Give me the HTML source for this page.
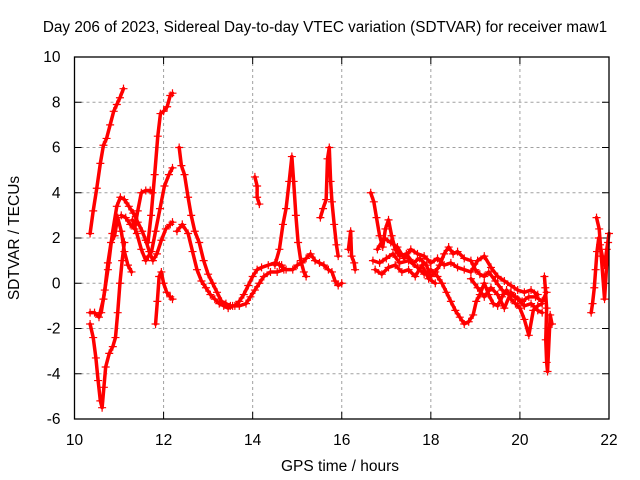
<!DOCTYPE html>
<html><head><meta charset="utf-8"><style>
body{margin:0;background:#fff;}
svg{display:block;font-family:"Liberation Sans",sans-serif;}
</style></head><body>
<svg id="chart" width="640" height="480" viewBox="0 0 640 480">
<text x="325" y="32" font-size="15.3" text-anchor="middle" fill="#000">Day 206 of 2023, Sidereal Day-to-day VTEC variation (SDTVAR) for receiver maw1</text>
<g id="grid"></g>
<g id="ticks"></g>
<g id="marks"></g>
<rect x="74.5" y="57" width="534.5" height="362" fill="none" stroke="#000" stroke-width="1.3"/>
<text x="340" y="471" font-size="15.5" text-anchor="middle">GPS time / hours</text>
<text transform="translate(19,238) rotate(-90)" font-size="15.5" text-anchor="middle">SDTVAR / TECUs</text>
</svg>
<script>
const xTicks=[10,12,14,16,18,20,22];
const yTicks=[-6,-4,-2,0,2,4,6,8,10];
const trackA=[[10.35,2.2],[10.42,3.2],[10.5,4.2],[10.58,5.3],[10.65,6.1],[10.72,6.4],[10.8,7.0],[10.88,7.6],[10.95,7.9],[11.02,8.2],[11.1,8.6]];
const trackB=[[10.35,-1.8],[10.42,-2.4],[10.48,-3.3],[10.53,-4.3],[10.58,-5.2],[10.62,-5.5],[10.66,-4.6],[10.7,-3.7],[10.78,-3.1],[10.86,-2.8],[10.92,-2.4],[10.97,-1.3],[11.02,0],[11.07,1.0],[11.12,1.8]];
const trackC=[[10.35,-1.3],[10.45,-1.3],[10.55,-1.5],[10.65,-0.7],[10.75,0.6],[10.85,2.2],[10.95,3.4],[11.03,3.8],[11.12,3.7],[11.22,3.4],[11.32,3.1],[11.42,2.7],[11.52,2.3],[11.6,1.9],[11.68,1.4],[11.76,1.0],[11.85,1.3],[11.95,1.9],[12.05,2.4],[12.15,2.6],[12.2,2.7]];
const trackD=[[10.6,-1.3],[10.68,-0.3],[10.75,0.9],[10.82,1.8],[10.9,2.1],[10.97,2.9],[11.05,2.3],[11.12,1.4],[11.2,0.8],[11.28,0.5]];
const trackE=[[11.05,3.0],[11.15,2.9],[11.25,2.6],[11.35,2.4],[11.42,3.2],[11.5,4.0],[11.6,4.1],[11.7,4.1],[11.75,4.0]];
const trackF=[[11.3,2.8],[11.4,2.2],[11.5,1.5],[11.6,1.0],[11.66,1.2],[11.73,1.4],[11.82,2.3],[11.92,3.3],[12.02,4.3],[12.12,4.8],[12.2,5.1]];
const trackG=[[11.65,1.8],[11.72,3.0],[11.8,4.8],[11.87,6.5],[11.93,7.5],[12.0,7.6],[12.08,7.8],[12.15,8.3],[12.2,8.4]];
const trackH=[[11.82,-1.8],[11.86,-0.8],[11.9,0.3],[11.95,0.5],[12.0,0],[12.07,-0.4],[12.15,-0.6],[12.2,-0.7]];
const trackI=[[12.35,6.0],[12.4,5.2],[12.47,4.8],[12.55,3.8],[12.62,3.0],[12.7,2.3],[12.8,1.8],[12.9,1.0],[13.0,0.4],[13.1,0],[13.2,-0.4],[13.3,-0.8],[13.4,-0.9],[13.5,-1.0],[13.6,-1.0],[13.7,-0.8],[13.8,-0.5],[13.9,-0.1],[14.0,0.3],[14.1,0.6],[14.2,0.7],[14.35,0.8],[14.5,0.9],[14.65,0.8]];
const trackJ=[[12.3,2.3],[12.42,2.6],[12.55,2.2],[12.65,1.4],[12.75,0.6],[12.85,0.1],[12.95,-0.2],[13.05,-0.5],[13.15,-0.7],[13.25,-0.9],[13.35,-1.0],[13.45,-1.1],[13.55,-1.0],[13.7,-1.0],[13.85,-0.9],[13.95,-0.6],[14.05,-0.3],[14.15,0],[14.25,0.3],[14.4,0.5],[14.55,0.5],[14.7,0.6]];
const trackK=[[14.6,0.8],[14.75,0.6],[14.9,0.6],[15.0,0.8],[15.1,0.9],[15.2,1.1],[15.3,1.3],[15.4,1.0],[15.5,0.9],[15.6,0.8],[15.7,0.6],[15.78,0.5],[15.85,0.1],[15.92,-0.1],[16.0,0]];
const trackL=[[14.5,0.8],[14.6,1.5],[14.68,2.6],[14.75,3.3],[14.82,4.5],[14.88,5.6],[14.92,4.5],[14.97,3.0],[15.02,1.8],[15.08,1.0],[15.15,0.5],[15.2,0.3]];
const trackM=[[14.05,4.7],[14.1,4.3],[14.1,3.8],[14.15,3.5]];
const trackN=[[15.52,2.9],[15.58,3.3],[15.65,3.7],[15.68,5.5],[15.72,6.0],[15.75,4.5],[15.78,3.6],[15.83,2.6],[15.88,1.7],[15.92,1.2]];
const trackO=[[16.15,1.5],[16.2,2.3],[16.22,1.2],[16.28,0.9],[16.3,0.6]];
const trackP=[[16.65,4.0],[16.72,3.6],[16.78,2.9],[16.85,2.1],[16.92,1.6],[16.98,2.4],[17.05,2.8],[17.12,2.1],[17.2,1.5],[17.3,1.2],[17.45,1.3],[17.6,0.9],[17.75,1.1],[17.9,0.8],[18.0,0.3],[18.1,0.5],[18.2,0.8],[18.3,1.3],[18.4,1.6],[18.5,1.3],[18.6,1.4],[18.75,1.1],[18.9,1.0],[19.0,0.6],[19.1,0.4],[19.2,0.3],[19.3,0.5],[19.45,0.1],[19.6,-0.3],[19.75,-0.5],[19.9,-0.6],[20.05,-0.8],[20.2,-0.6],[20.35,-0.6],[20.5,-0.8],[20.6,-0.4]];
const trackQ=[[16.7,1.0],[16.85,0.9],[17.0,1.1],[17.15,1.3],[17.3,0.9],[17.5,1.0],[17.7,0.7],[17.85,0.4],[18.0,0.6],[18.15,0.3],[18.25,0],[18.35,-0.4],[18.45,-0.8],[18.55,-1.2],[18.65,-1.5],[18.75,-1.8],[18.85,-1.7],[18.95,-1.4],[19.02,-0.8],[19.1,-0.5],[19.2,0],[19.3,-0.5],[19.4,-0.9],[19.5,-1.0],[19.6,-0.6],[19.7,-0.3],[19.8,-0.7],[19.9,-0.9],[20.0,-1.1],[20.1,-1.6],[20.2,-2.3],[20.3,-1.2],[20.4,-1.0],[20.5,-0.9]];
const trackR=[[20.55,0.3],[20.57,-0.2],[20.6,-1.1],[20.58,-2.5],[20.6,-3.5],[20.62,-3.9],[20.68,-1.4],[20.72,-1.8]];
const trackS=[[21.6,-1.3],[21.63,-0.9],[21.67,-0.2],[21.7,0.6],[21.73,1.4],[21.77,2.0],[21.8,1.7],[21.85,1.2],[21.9,0.8],[21.95,1.5],[22.0,2.2]];
const trackT=[[21.72,2.9],[21.78,2.4],[21.9,-0.7],[21.98,1.8]];
const trackU=[[16.8,1.5],[16.95,2.0],[17.1,1.8],[17.25,1.6],[17.4,1.1],[17.55,1.5],[17.7,1.3],[17.85,1.2],[18.0,0.9],[18.15,1.1],[18.3,0.8],[18.45,0.9],[18.6,0.7],[18.75,0.6],[18.9,0.5],[19.05,1.0],[19.2,1.2],[19.35,0.7],[19.5,0.3],[19.65,0.1],[19.8,-0.1],[19.95,-0.3],[20.1,-0.4],[20.25,-0.3],[20.4,-0.5]];
const trackV=[[16.75,0.6],[16.9,0.4],[17.05,0.7],[17.2,0.8],[17.35,0.5],[17.5,0.6],[17.65,0.3],[17.8,0.8],[17.95,0.2],[18.1,0.0]];
const trackW=[[18.9,0.2],[19.05,-0.2],[19.2,-0.6],[19.35,-0.2],[19.5,-0.5],[19.65,-1.1],[19.8,-0.4],[19.95,-0.7],[20.1,-1.0],[20.25,-0.9],[20.4,-1.2],[20.5,-1.3]];
const tracks=[trackA,trackB,trackC,trackD,trackE,trackF,trackG,trackH,trackI,trackJ,trackK,trackL,trackM,trackN,trackO,trackP,trackQ,trackR,trackS,trackT,trackU,trackV,trackW];

const L=74.5,R=609,T=57,B=419,xMin=10,xMax=22,yMin=-6,yMax=10;
function xs(v){return L+(v-xMin)/(xMax-xMin)*(R-L);}
function ys(v){return B-(v-yMin)/(yMax-yMin)*(B-T);}
const NS='http://www.w3.org/2000/svg';
function mk(tag,attrs,parent){const e=document.createElementNS(NS,tag);for(const k in attrs)e.setAttribute(k,attrs[k]);parent.appendChild(e);return e;}
const grid=document.getElementById('grid'),ticks=document.getElementById('ticks'),marks=document.getElementById('marks');
xTicks.forEach(t=>{
  const x=xs(t);
  if(t>xMin&&t<xMax){const g=mk('line',{x1:x,x2:x,y1:T,y2:B,stroke:'#a0a0a0','stroke-dasharray':'3,3','stroke-width':1},grid);
  
  }
  const tk=mk('path',{d:`M${x},${B}v-7M${x},${T}v7`,stroke:'#000','stroke-width':1},ticks);
  
  
  const lb=mk('text',{x:x,y:B+26,'font-size':15.5,'text-anchor':'middle'},ticks);lb.textContent=t;
  
  
});
yTicks.forEach(t=>{
  const y=ys(t);
  if(t>yMin&&t<yMax){const g=mk('line',{x1:L,x2:R,y1:y,y2:y,stroke:'#a0a0a0','stroke-dasharray':'3,3','stroke-width':1},grid);
  
  }
  const tk=mk('path',{d:`M${L},${y}h7M${R},${y}h-7`,stroke:'#000','stroke-width':1},ticks);
  
  
  const lb=mk('text',{x:L-14,y:y+5,'font-size':15.5,'text-anchor':'end'},ticks);lb.textContent=t;
  
  
});
tracks.forEach(tr=>{
  const pl=mk('polyline',{points:tr.map(p=>xs(p[0])+','+ys(p[1])).join(' '),fill:'none',stroke:'#ff0000','stroke-width':3.5,'stroke-linejoin':'round','stroke-linecap':'round'},marks);
  
  
  tr.forEach(p=>{
    const x=xs(p[0]),y=ys(p[1]);
    const m=mk('path',{d:`M${x-4},${y}h8M${x},${y-4}v8`,stroke:'#ff0000','stroke-width':1.2},marks);
    
    
  });
});
</script>
</body></html>
